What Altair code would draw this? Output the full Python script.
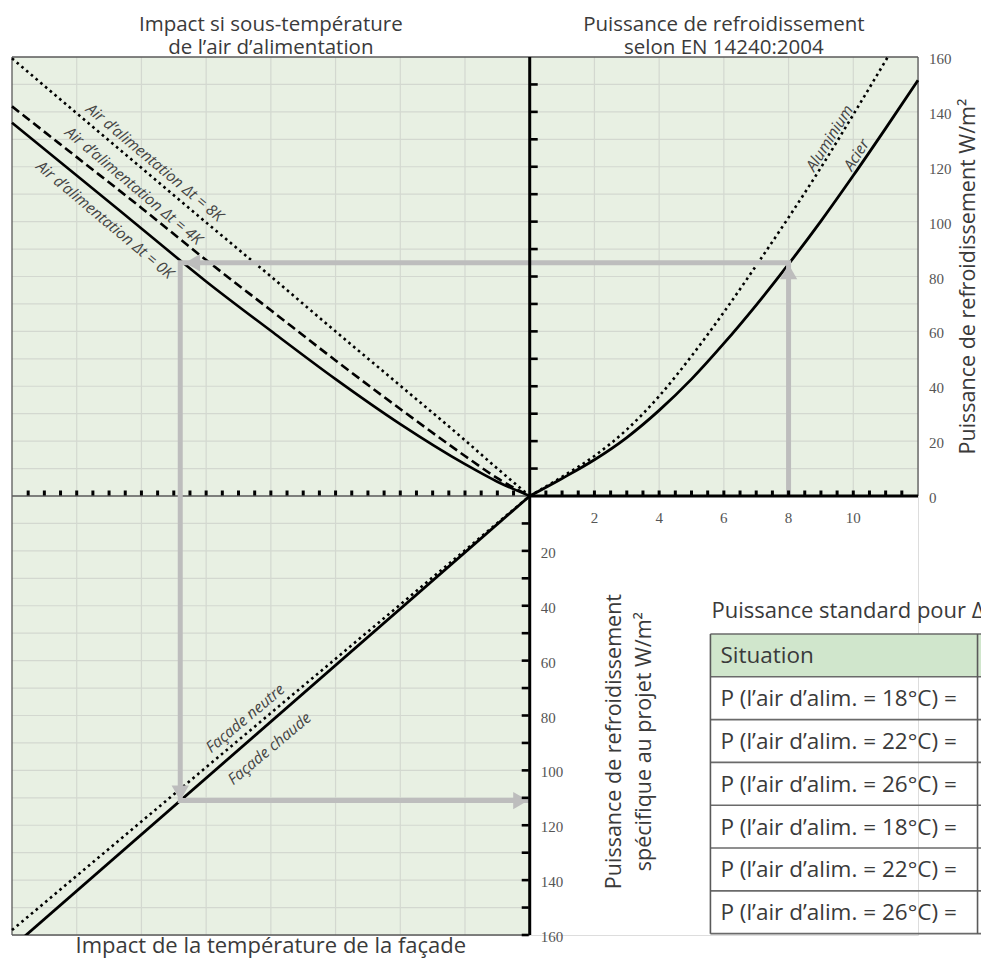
import altair as alt
import pandas as pd

# ---------------- data ----------------
# top-left panel: impact of supply-air under-temperature
LEFT_X = [-16, -14, -12, -10, -8, -6, -4, -2, -1, 0]
AIR_0K = [136.0, 116.8, 97.5, 78.2, 60.2, 42.6, 26.2, 11.6, 5.2, 0]
AIR_4K = [142.0, 123.5, 105.0, 86.0, 67.7, 49.4, 31.7, 14.6, 6.5, 0]
AIR_8K = [159.5, 139.5, 119.6, 99.7, 80.0, 60.0, 40.2, 20.3, 10.0, 0]

# top-right panel: cooling capacity according to EN 14240:2004
ACIER_X = [0, 1, 2, 3, 4, 5, 6, 7, 8, 9, 10, 11, 12]
ACIER_Y = [0, 6.4, 13.2, 21.3, 31.2, 42.6, 55.6, 69.6, 84.5, 100.2, 116.8, 134.0, 151.5]
ALU_X = [0, 1, 2, 3, 4, 5, 6, 7, 8, 9, 10, 11, 11.5]
ALU_Y = [0, 7.0, 14.6, 24.2, 36.4, 51.0, 67.0, 84.0, 101.5, 119.7, 139.0, 158.7, 168.8]

# bottom-left panel: impact of facade temperature (downwards = positive W/m2)
FACADE_X = [-16, 0]
FACADE_CHAUDE = [-164.5, 0]
FACADE_NEUTRE = [-158.2, 0]

# reading example (grey arrows)
PATH_X = [8, 8, -10.8, -10.8, 0]
PATH_Y = [0, 85, 85, -111, -111]

X_TICK_LABELS = [2, 4, 6, 8, 10]
Y_TOP_LABELS = [0, 20, 40, 60, 80, 100, 120, 140, 160]
Y_BOTTOM_LABELS = [20, 40, 60, 80, 100, 120, 140, 160]

CURVE_LABELS = ["Air d\u2019alimentation \u0394t = 8K", "Air d\u2019alimentation \u0394t = 4K",
                "Air d\u2019alimentation \u0394t = 0K", "Aluminium", "Acier",
                "Fa\u00e7ade neutre", "Fa\u00e7ade chaude"]

TABLE_TITLE = "Puissance standard pour \u0394t"
TABLE_HEADER = "Situation"
TABLE_ROWS = ["P (l\u2019air d\u2019alim. = 18\u00b0C) =", "P (l\u2019air d\u2019alim. = 22\u00b0C) =",
              "P (l\u2019air d\u2019alim. = 26\u00b0C) =", "P (l\u2019air d\u2019alim. = 18\u00b0C) =",
              "P (l\u2019air d\u2019alim. = 22\u00b0C) =", "P (l\u2019air d\u2019alim. = 26\u00b0C) ="]

# ---------------- styling ----------------
GREEN = "#e8f0e3"
GRID = "#d3d8d0"
ARROW = "#bdbdbd"
TXT = "#3a3a3a"
SANS = "Open Sans"
SERIF = "Liberation Serif"

xs = alt.Scale(domain=[-16, 12], nice=False, zero=False)
ys = alt.Scale(domain=[-160, 160], nice=False, zero=False)


def X(f="x"):
    return alt.X(f"{f}:Q", scale=xs, axis=None)


def Y(f="y"):
    return alt.Y(f"{f}:Q", scale=ys, axis=None)


def C(df):
    return alt.Chart(pd.DataFrame(df))


layers = []

# backgrounds (three green quadrants)
layers.append(C({"x": [-16, 0], "x2": [0, 12], "y": [-160, 0], "y2": [160, 160]})
              .mark_rect(color=GREEN).encode(x=X("x"), x2="x2:Q", y=Y("y"), y2="y2:Q"))

# grid lines
gv = {"x": [], "y": [], "y2": []}
for v in range(-14, 0, 2):
    gv["x"].append(v); gv["y"].append(-160); gv["y2"].append(160)
for v in range(2, 12, 2):
    gv["x"].append(v); gv["y"].append(0); gv["y2"].append(160)
layers.append(C(gv).mark_rule(color=GRID, strokeWidth=1.2)
              .encode(x=X("x"), y=Y("y"), y2="y2:Q"))
gh = {"y": [], "x": [], "x2": []}
for v in range(10, 160, 10):
    gh["y"].append(v); gh["x"].append(-16); gh["x2"].append(12)
    gh["y"].append(-v); gh["x"].append(-16); gh["x2"].append(0)
layers.append(C(gh).mark_rule(color=GRID, strokeWidth=1.2)
              .encode(y=Y("y"), x=X("x"), x2="x2:Q"))

# panel borders
bh = {"y": [160, -160, 0], "x": [-16, -16, -16], "x2": [12, 0, 0]}
layers.append(C(bh).mark_rule(color="#5a5a5a", strokeWidth=1.3)
              .encode(y=Y("y"), x=X("x"), x2="x2:Q"))
bv = {"x": [-16, 12], "y": [-160, 0], "y2": [160, 160]}
layers.append(C(bv).mark_rule(color="#5a5a5a", strokeWidth=1.3)
              .encode(x=X("x"), y=Y("y"), y2="y2:Q"))

# curves
layers.append(C({"x": LEFT_X, "y": AIR_8K}).mark_line(color="black", strokeWidth=2.6, strokeDash=[2.6, 3.6], interpolate="monotone")
              .encode(x=X(), y=Y()))
layers.append(C({"x": LEFT_X, "y": AIR_4K}).mark_line(color="black", strokeWidth=2.6, strokeDash=[9, 4.5], interpolate="monotone")
              .encode(x=X(), y=Y()))
layers.append(C({"x": LEFT_X, "y": AIR_0K}).mark_line(color="black", strokeWidth=2.6, interpolate="monotone")
              .encode(x=X(), y=Y()))
layers.append(C({"x": ALU_X, "y": ALU_Y}).mark_line(color="black", strokeWidth=2.6, strokeDash=[2.6, 3.6], interpolate="monotone", clip=True)
              .encode(x=X(), y=Y()))
layers.append(C({"x": ACIER_X, "y": ACIER_Y}).mark_line(color="black", strokeWidth=2.8, interpolate="monotone")
              .encode(x=X(), y=Y()))
layers.append(C({"x": FACADE_X, "y": FACADE_NEUTRE}).mark_line(color="black", strokeWidth=2.6, strokeDash=[2.6, 3.6])
              .encode(x=X(), y=Y()))
layers.append(C({"x": FACADE_X, "y": FACADE_CHAUDE}).mark_line(color="black", strokeWidth=2.8, clip=True)
              .encode(x=X(), y=Y()))

# grey reading arrows
layers.append(C({"x": PATH_X, "y": PATH_Y, "o": list(range(len(PATH_X)))})
              .mark_line(color=ARROW, strokeWidth=5, strokeJoin="miter")
              .encode(x=X(), y=Y(), order="o:Q"))
HEAD = 300
H = 0.433 * HEAD ** 0.5
layers.append(C({"x": [PATH_X[1]], "y": [PATH_Y[1] - 0.5]})
              .mark_point(shape="triangle-up", size=HEAD, filled=True, opacity=1, color=ARROW, yOffset=H)
              .encode(x=X(), y=Y()))
layers.append(C({"x": [PATH_X[2] + 0.15], "y": [PATH_Y[2]]})
              .mark_point(shape="triangle-left", size=HEAD, filled=True, opacity=1, color=ARROW, xOffset=H)
              .encode(x=X(), y=Y()))
layers.append(C({"x": [PATH_X[3]], "y": [PATH_Y[3]]})
              .mark_point(shape="triangle-down", size=HEAD, filled=True, opacity=1, color=ARROW, yOffset=-H)
              .encode(x=X(), y=Y()))
layers.append(C({"x": [PATH_X[4]], "y": [PATH_Y[4]]})
              .mark_point(shape="triangle-right", size=HEAD, filled=True, opacity=1, color=ARROW, xOffset=-H - 1.5)
              .encode(x=X(), y=Y()))

# thick axes
layers.append(C({"x": [0], "y": [-160], "y2": [160]}).mark_rule(color="black", strokeWidth=3)
              .encode(x=X("x"), y=Y("y"), y2="y2:Q"))
layers.append(C({"y": [0], "x": [0], "x2": [12]}).mark_rule(color="black", strokeWidth=3)
              .encode(y=Y("y"), x=X("x"), x2="x2:Q"))

# axis ticks
layers.append(C({"x": [0] * 15, "y": list(range(10, 160, 10))})
              .mark_tick(orient="horizontal", size=7, thickness=2.6, xOffset=4.5, color="black", opacity=1)
              .encode(x=X(), y=Y()))
layers.append(C({"x": [0] * 16, "y": list(range(-10, -170, -10))})
              .mark_tick(orient="horizontal", size=7, thickness=2.6, xOffset=-4.5, color="black", opacity=1)
              .encode(x=X(), y=Y()))
hx = [v / 2 for v in range(-31, 24) if v != 0]
layers.append(C({"x": hx, "y": [0] * len(hx)})
              .mark_tick(orient="vertical", size=5, thickness=3, yOffset=-3, color="black", opacity=1)
              .encode(x=X(), y=Y()))

# tick labels (serif)
lab = dict(font=SERIF, fontSize=15, color="#555555")
layers.append(C({"x": [12] * len(Y_TOP_LABELS), "y": Y_TOP_LABELS, "t": [str(v) for v in Y_TOP_LABELS]})
              .mark_text(align="left", baseline="middle", dx=11, dy=2, **lab)
              .encode(x=X(), y=Y(), text="t:N"))
layers.append(C({"x": [0] * len(Y_BOTTOM_LABELS), "y": [-v for v in Y_BOTTOM_LABELS], "t": [str(v) for v in Y_BOTTOM_LABELS]})
              .mark_text(align="left", baseline="middle", dx=11, dy=2, **lab)
              .encode(x=X(), y=Y(), text="t:N"))
layers.append(C({"x": X_TICK_LABELS, "y": [0] * len(X_TICK_LABELS), "t": [str(v) for v in X_TICK_LABELS]})
              .mark_text(align="center", baseline="middle", dy=22, **lab)
              .encode(x=X(), y=Y(), text="t:N"))

# panel titles
big = dict(font=SANS, fontSize=20.5, color=TXT)
layers.append(C({"x": [-8, 6], "y": [160, 160], "t": ["Impact si sous-temp\u00e9rature", "Puissance de refroidissement"]})
              .mark_text(align="center", baseline="alphabetic", dy=-26, **big)
              .encode(x=X(), y=Y(), text="t:N"))
layers.append(C({"x": [-8, 6], "y": [160, 160], "t": ["de l\u2019air d\u2019alimentation", "selon EN 14240:2004"]})
              .mark_text(align="center", baseline="alphabetic", dy=-3, **big)
              .encode(x=X(), y=Y(), text="t:N"))
layers.append(C({"x": [-8], "y": [-160], "t": ["Impact de la temp\u00e9rature de la fa\u00e7ade"]})
              .mark_text(align="center", baseline="alphabetic", dy=18, font=SANS, fontSize=22, color=TXT)
              .encode(x=X(), y=Y(), text="t:N"))
layers.append(C({"x": [13.57], "y": [80], "t": ["Puissance de refroidissement W/m\u00b2"]})
              .mark_text(align="center", baseline="middle", angle=270, font=SANS, fontSize=21.5, color=TXT)
              .encode(x=X(), y=Y(), text="t:N"))
layers.append(C({"x": [2.63, 3.55], "y": [-89.5, -89.5], "t": ["Puissance de refroidissement", "sp\u00e9cifique au projet W/m\u00b2"]})
              .mark_text(align="center", baseline="middle", angle=270, font=SANS, fontSize=21.5, color=TXT)
              .encode(x=X(), y=Y(), text="t:N"))

# curve labels
cl = {"t": CURVE_LABELS,
      "x": [-11.59, -12.24, -13.13, 9.27, 10.1, -8.79, -8.04],
      "y": [121.5, 113.0, 100.6, 130.4, 124.3, -81.1, -92.1],
      "a": [40, 40, 40, 302, 302, 320, 320]}
layers.append(C(cl).mark_text(align="center", baseline="middle", font=SANS, fontSize=15.5, fontStyle="italic", color="#444444")
              .encode(x=X(), y=Y(), text="t:N", angle=alt.Angle("a:Q", scale=None)))

# table (cropped at the right edge like the reference)
T_LEFT, T_DIV, T_RIGHT = 5.585, 13.84, 20
T_TOP, ROW_H = -50.3, 15.6
n_rows = len(TABLE_ROWS) + 1
edges = [T_TOP - i * ROW_H for i in range(n_rows + 1)]
layers.append(C({"x": [T_LEFT], "x2": [T_RIGHT], "y": [edges[0]], "y2": [edges[1]]})
              .mark_rect(color="#d0e6cc").encode(x=X("x"), x2="x2:Q", y=Y("y"), y2="y2:Q"))
layers.append(C({"y": edges, "x": [T_LEFT] * len(edges), "x2": [T_RIGHT] * len(edges)})
              .mark_rule(color="#6a6a6a", strokeWidth=1.6).encode(y=Y("y"), x=X("x"), x2="x2:Q"))
layers.append(C({"x": [T_LEFT, T_DIV], "y": [edges[-1]] * 2, "y2": [edges[0]] * 2})
              .mark_rule(color="#5a5a5a", strokeWidth=1.6).encode(x=X("x"), y=Y("y"), y2="y2:Q"))
cells = [TABLE_HEADER] + TABLE_ROWS
layers.append(C({"x": [T_LEFT] * n_rows, "y": [(edges[i] + edges[i + 1]) / 2 for i in range(n_rows)], "t": cells})
              .mark_text(align="left", baseline="middle", dx=10, dy=1, font=SANS, fontSize=22.5, color=TXT)
              .encode(x=X(), y=Y(), text="t:N"))
layers.append(C({"x": [T_LEFT], "y": [T_TOP], "t": [TABLE_TITLE]})
              .mark_text(align="left", baseline="alphabetic", dx=1, dy=-16, font=SANS, fontSize=22, color=TXT)
              .encode(x=X(), y=Y(), text="t:N"))

chart = (alt.layer(*layers)
         .properties(width=906, height=878,
                     autosize=alt.AutoSizeParams(type="none"),
                     padding={"left": 4, "top": 49, "right": 63, "bottom": 24})
         .configure_view(strokeWidth=0)
         .configure(background="white"))

chart.save("out.html", embed_options={"renderer": "svg", "actions": False})
